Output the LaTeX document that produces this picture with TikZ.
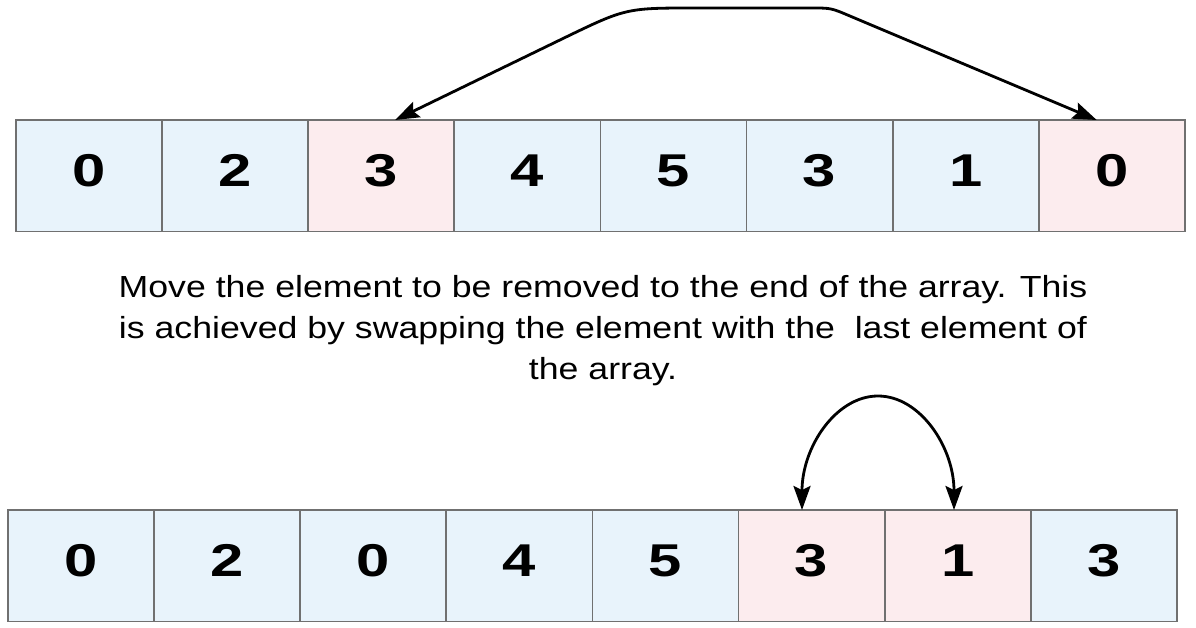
\documentclass[tikz,border=0pt]{standalone}
\usepackage{fontspec}
\setmainfont{Liberation Sans}
\newfontfamily\wfont[FakeStretch=1.3]{Liberation Sans}
\newfontfamily\cfont[FakeStretch=1.17]{Liberation Sans}
\usetikzlibrary{arrows.meta,calc}
\definecolor{cellblue}{HTML}{E8F3FB}
\definecolor{cellpink}{HTML}{FCECEE}
\definecolor{cellline}{HTML}{707070}
\begin{document}
\begin{tikzpicture}[x=1pt,y=-1pt,
  cell/.style={draw=cellline, line width=1.8pt, minimum width=146.1pt, minimum height=111.5pt,
    inner sep=0pt, outer sep=0pt, anchor=north west, text depth=11pt,
    font=\wfont\bfseries\fontsize{46}{46}\selectfont},
  blue/.style={cell, fill=cellblue},
  pink/.style={cell, fill=cellpink},
  arr/.style={draw=black, line width=2.8pt, {Stealth[length=24pt,width=17pt,inset=4pt]}-{Stealth[length=24pt,width=17pt,inset=4pt]}},
  caption/.style={font=\cfont\fontsize{30.5}{41}\selectfont, align=center, inner sep=0pt}
]
\fill[white] (0,0) rectangle (1196,628);
\useasboundingbox (0,0) rectangle (1196,628);
% top array
\node[blue] (t0) at (16,120) {0};
\node[blue] (t1) at (162.1,120) {2};
\node[pink] (t2) at (308.2,120) {3};
\node[blue] (t3) at (454.3,120) {4};
\node[blue] (t4) at (600.4,120) {5};
\node[blue] (t5) at (746.5,120) {3};
\node[blue] (t6) at (892.6,120) {1};
\node[pink] (t7) at (1038.7,120) {0};
% bottom array
\node[blue] (b0) at (8,510) {0};
\node[blue] (b1) at (154.1,510) {2};
\node[blue] (b2) at (300.2,510) {0};
\node[blue] (b3) at (446.3,510) {4};
\node[blue] (b4) at (592.4,510) {5};
\node[pink] (b5) at (738.5,510) {3};
\node[pink] (b6) at (884.6,510) {1};
\node[blue] (b7) at (1030.7,510) {3};
% caption
\node[caption, anchor=base] (cap) at (603,379) {Move the element to be removed to the end of the array. This\\is achieved by swapping the element with the\ \ last element of\\the array.};
% top arrow
\coordinate (tl) at ($(t2.north west)+(87,0)$);
\coordinate (tr) at ($(t7.north west)+(58,0)$);
\draw[arr] (tr) -- (849.4,15.8) .. controls (831,8) .. (811,8) -- (696,8) .. controls (626,8) .. (563,38.5) -- (tl);
% bottom arrow
\coordinate (bl) at ($(b5.north west)+(63.5,0)$);
\coordinate (br) at ($(b6.north west)+(69.4,0)$);
\draw[arr] (bl) .. controls (802,447) and (836,396) .. (878,396) .. controls (920,396) and (954,447) .. (br);
\end{tikzpicture}
\end{document}
